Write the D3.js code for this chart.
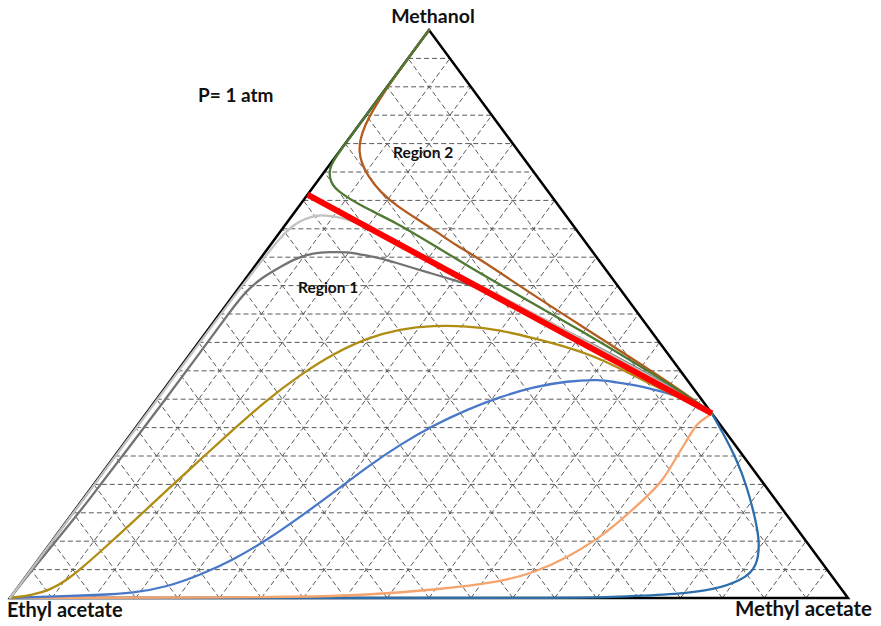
<!DOCTYPE html>
<html>
<head>
<meta charset="utf-8">
<script src="https://cdn.jsdelivr.net/npm/d3@7"></script>
<style>
  body { margin: 0; background: #fff; }
  text { font-family: Lato, "Open Sans", sans-serif; font-weight: bold; fill: #111; }
</style>
</head>
<body>
<svg id="chart" width="881" height="626"></svg>
<script>
// Ternary diagram: each point is [x methyl acetate, x methanol]; ethyl acetate = 1 - both.
const componentNames = ["Methanol", "Ethyl acetate", "Methyl acetate"];
const pressureText = "P= 1 atm";
const regionNames = ["Region 1", "Region 2"];
const gridFractions = [0.05, 0.10, 0.15, 0.20, 0.25, 0.30, 0.35, 0.40, 0.45, 0.50,
                       0.55, 0.60, 0.65, 0.70, 0.75, 0.80, 0.85, 0.90, 0.95];

// Distillation boundary between the two azeotropes
const boundary = [[0, 0.71], [0.675, 0.325]];

// Residue curves (region 2: from pure methanol to the MeOH–MeAc azeotrope)
const curveGreen = [[0, 1], [0, 0.85], [0, 0.78], [0.002, 0.757], [0.0166, 0.7306],
  [0.0373, 0.713], [0.077, 0.6884], [0.1317, 0.6602], [0.1887, 0.625], [0.2457, 0.5898],
  [0.2748, 0.5722], [0.3599, 0.5211], [0.4443, 0.4718], [0.5648, 0.3979], [0.635, 0.353],
  [0.675, 0.325]];
const curveBrown = [[0, 1], [0, 0.9296], [0.0012, 0.8926], [0.0036, 0.8592], [0.0072, 0.8327],
  [0.0145, 0.8063], [0.0239, 0.7852], [0.0379, 0.7641], [0.0557, 0.743], [0.0841, 0.7148],
  [0.1167, 0.6901], [0.1521, 0.6673], [0.1873, 0.6444], [0.2235, 0.6197], [0.2625, 0.5968],
  [0.352, 0.537], [0.4399, 0.4806], [0.563, 0.4014], [0.6346, 0.3539], [0.675, 0.325]];

// Residue curves (region 1: from pure ethyl acetate to the MeOH–MeAc azeotrope)
const curveLightGray = [[0, 0], [0.0008, 0.1725], [0.0011, 0.3486], [0.0014, 0.5246],
  [0.004, 0.6127], [0.0063, 0.6391], [0.0084, 0.6514], [0.0142, 0.6637], [0.0226, 0.6708],
  [0.0328, 0.6743], [0.0457, 0.6725], [0.0629, 0.669], [0.084, 0.6602], [0.1048, 0.6496],
  [0.1297, 0.6356], [0.1538, 0.6232], [0.2364, 0.5775], [0.3189, 0.5317], [0.4014, 0.4859],
  [0.4849, 0.4384], [0.5683, 0.3908], [0.6368, 0.3495], [0.675, 0.325]];
const curveDarkGray = [[0, 0], [0.0016, 0.0493], [0.005, 0.1021], [0.008, 0.1725],
  [0.0093, 0.2606], [0.0106, 0.3486], [0.0109, 0.4366], [0.0103, 0.507], [0.0117, 0.5423],
  [0.0193, 0.5651], [0.0308, 0.5827], [0.0432, 0.5986], [0.0579, 0.6074], [0.0773, 0.6092],
  [0.0976, 0.6092], [0.1193, 0.6039], [0.1422, 0.5986], [0.1669, 0.5898], [0.1904, 0.581],
  [0.2151, 0.5722], [0.2397, 0.5634], [0.2633, 0.5546], [0.288, 0.5458], [0.3524, 0.5123],
  [0.4019, 0.485], [0.484, 0.4401], [0.5674, 0.3926], [0.6363, 0.3504], [0.675, 0.325]];
const curveGold = [[0, 0], [0.0248, 0.0053], [0.0407, 0.0141], [0.0522, 0.0317],
  [0.0598, 0.0546], [0.0669, 0.081], [0.0799, 0.1338], [0.0923, 0.19], [0.105, 0.243],
  [0.118, 0.296], [0.132, 0.3486], [0.1498, 0.3926], [0.1706, 0.4296], [0.1971, 0.4577],
  [0.2286, 0.4736], [0.2649, 0.4798], [0.3059, 0.4789], [0.3488, 0.4718], [0.3952, 0.4577],
  [0.4437, 0.4419], [0.4928, 0.4225], [0.575, 0.3768], [0.639, 0.345], [0.675, 0.325]];
const curveBlue = [[0, 0], [0.0266, 0.0018], [0.1048, 0.0053], [0.1424, 0.0088],
  [0.1777, 0.0194], [0.2065, 0.0405], [0.2327, 0.0669], [0.2556, 0.1021], [0.2748, 0.1426],
  [0.293, 0.1849], [0.3107, 0.2306], [0.3303, 0.2702], [0.353, 0.3037], [0.3794, 0.3319],
  [0.4078, 0.3539], [0.4384, 0.3715], [0.4737, 0.382], [0.5118, 0.3847], [0.5295, 0.3803],
  [0.5744, 0.3715], [0.6226, 0.3539], [0.6482, 0.3433], [0.675, 0.325]];
const curveOrange = [[0, 0], [0.1, 0.0004], [0.2, 0.0008], [0.345, 0.0018], [0.4234, 0.0053],
  [0.4977, 0.0141], [0.5706, 0.0282], [0.6021, 0.044], [0.6295, 0.0704], [0.6504, 0.1074],
  [0.657, 0.125], [0.6712, 0.1778], [0.6754, 0.2077], [0.6723, 0.2377], [0.6688, 0.2782],
  [0.6658, 0.3081], [0.6724, 0.3187], [0.675, 0.325]];
const curveNavy = [[0.675, 0.325], [0.7056, 0.2905], [0.746, 0.243], [0.7818, 0.1954],
  [0.8177, 0.1426], [0.8466, 0.0968], [0.8641, 0.0546], [0.8588, 0.0317], [0.8319, 0.0141],
  [0.796, 0.007], [0.7187, 0.0018], [0.68, 0], [0.4, 0], [0, 0]];

const svg = d3.select("#chart");

// Base scales of the (flattened) triangle
const sx = d3.scaleLinear().domain([0, 1]).range([10, 848]);
const sy = d3.scaleLinear().domain([0, 1]).range([598, 30]);
const px = d => sx(d[0] + d[1] / 2);
const py = d => sy(d[1]);

// Dashed composition grid, parallel to all three sides
const grid = svg.append("g")
  .attr("stroke", "#5a5a5a").attr("stroke-width", 1)
  .attr("stroke-dasharray", "5,3").attr("fill", "none");
const gridSegs = [];
gridFractions.forEach(t => {
  gridSegs.push([[0, t], [1 - t, t]]);       // constant methanol
  gridSegs.push([[t, 0], [t, 1 - t]]);       // constant methyl acetate
  gridSegs.push([[1 - t, 0], [0, 1 - t]]);   // constant ethyl acetate
});
grid.selectAll("line").data(gridSegs).join("line")
  .attr("x1", d => px(d[0])).attr("y1", d => py(d[0]))
  .attr("x2", d => px(d[1])).attr("y2", d => py(d[1]));

// Triangle outline
const corners = [[0, 1], [0, 0], [1, 0]];
svg.append("path")
  .attr("d", d3.line().x(px).y(py)(corners) + "Z")
  .attr("fill", "none").attr("stroke", "#000").attr("stroke-width", 2.5)
  .attr("stroke-linejoin", "miter");

// Residue curves
const line = d3.line().x(px).y(py).curve(d3.curveBasis);
const curves = [
  { data: curveNavy, color: "#2e6fab" },
  { data: curveOrange, color: "#f5a46e" },
  { data: curveBlue, color: "#4a78c8" },
  { data: curveGold, color: "#b08d12" },
  { data: curveDarkGray, color: "#737373" },
  { data: curveLightGray, color: "#c2c2c2" },
  { data: curveBrown, color: "#b35a1e" },
  { data: curveGreen, color: "#4f7a33" }
];
svg.append("g").selectAll("path").data(curves).join("path")
  .attr("d", d => line(d.data))
  .attr("fill", "none")
  .attr("stroke", d => d.color)
  .attr("stroke-width", 2.3)
  .attr("stroke-linecap", "round");

// Distillation boundary
svg.append("path")
  .attr("d", d3.line().x(px).y(py)(boundary))
  .attr("fill", "none").attr("stroke", "#ff0000").attr("stroke-width", 6);

// Corner labels
svg.append("text").text(componentNames[0])
  .attr("x", px([0, 1]) + 4).attr("y", 23).attr("text-anchor", "middle")
  .style("font-size", "19.5px");
svg.append("text").text(componentNames[1])
  .attr("x", 7).attr("y", 617).style("font-size", "20px");
svg.append("text").text(componentNames[2])
  .attr("x", 735).attr("y", 616).style("font-size", "20.5px");

// Pressure and region labels
svg.append("text").text(pressureText)
  .attr("x", 198).attr("y", 102).style("font-size", "19px");
svg.append("text").text(regionNames[0])
  .attr("x", px([0.0752, 0.537])).attr("y", py([0.0752, 0.537]))
  .style("font-size", "15.5px");
svg.append("text").text(regionNames[1])
  .attr("x", px([0.0697, 0.7746])).attr("y", py([0.0697, 0.7746]))
  .style("font-size", "15.5px");
</script>
</body>
</html>
